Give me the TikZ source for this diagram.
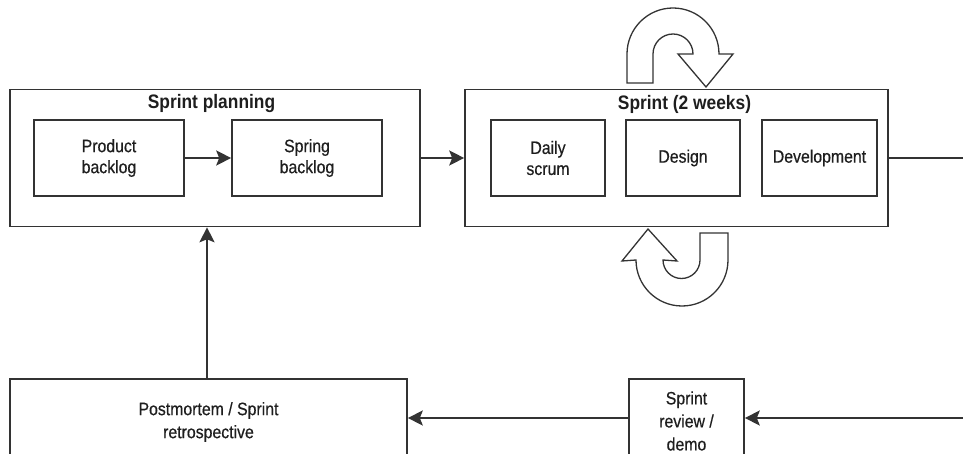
\documentclass[tikz,border=0pt]{standalone}
\usepackage{fontspec}
\setmainfont{Liberation Sans}[FakeStretch=0.89]
\newfontfamily\bodyfont{Liberation Sans}[FakeStretch=0.88, FakeBold=0.5]
\usetikzlibrary{arrows.meta}
\definecolor{ink}{HTML}{333333}
\definecolor{txt}{HTML}{1E1E1E}
\tikzset{
  x=1pt,y=1pt,
  every node/.style={text=txt},
  outer/.style={draw=ink, line width=1.6pt, minimum width=#1, minimum height=137pt, inner sep=0pt},
  inbox/.style={draw=ink, line width=1.6pt, minimum width=#1, minimum height=76pt, inner sep=0pt, align=center, font=\bodyfont\fontsize{18}{21}\selectfont},
  lowbox/.style={draw=ink, line width=1.6pt, minimum width=#1, inner sep=0pt, align=center, font=\bodyfont\fontsize{18}{23}\selectfont},
  ttl/.style={font=\fontsize{19.5}{22}\selectfont\bfseries, inner sep=0pt},
  arr/.style={draw=ink, line width=1.6pt, -{Stealth[length=15pt,width=15pt,inset=3pt]}},
  conn/.style={draw=ink, line width=1.6pt},
  uturn/.style={draw=ink, line width=1.3pt, fill=white, line join=miter}
}
\begin{document}
\begin{tikzpicture}
\clip (0,0) rectangle (963,-454);
\fill[white] (0,0) rectangle (963,-454);
% containers
\node[outer=410pt] (plan) at (215,-158) {};
\node[ttl] (plant) at (211.5,-104) {Sprint planning};
\node[inbox=150pt] (prod) at (109,-158) {Product\\backlog};
\node[inbox=150pt] (spring) at (307,-158) {Spring\\backlog};
\node[outer=423pt] (sprint) at (676.5,-158) {};
\node[ttl] (sprintt) at (684.5,-104) {Sprint (2 weeks)};
\node[inbox=114pt] (daily) at (548,-158) {Daily\\scrum};
\node[inbox=114pt] (design) at (683,-158) {Design};
\node[inbox=115pt] (dev) at (819.5,-158) {Development};
% bottom row
\node[lowbox=397pt, minimum height=86pt] (pm) at (208.5,-422) {Postmortem / Sprint\\retrospective};
\node[lowbox=115pt, minimum height=84pt] (rv) at (686.5,-421) {Sprint\\review /\\demo};
% free ends
\coordinate (rout) at (966,-158);
\coordinate (rin) at (966,-418);
% connectors
\draw[arr] (prod.east) -- (spring.west);
\draw[arr] (plan.east) -- (sprint.west);
\draw[conn] (sprint.east) -- (rout);
\draw[arr] (rin) -- (rv.east |- rin);
\draw[arr] (rv.west |- rin) -- (pm.east |- rin);
\draw[arr] ([xshift=-1.5pt]pm.north) -- ([xshift=-1.5pt]pm.north |- plan.south);
% U-turn arrows
\path[uturn] (627,-83) -- (627,-54) arc[start angle=180, end angle=0, radius=46]
  -- (733,-54) -- (706,-87) -- (678,-54) -- (693,-54)
  arc[start angle=0, end angle=180, radius=20] -- (653,-83) -- cycle;
\path[uturn] (700,-233) -- (728,-233) -- (728,-260) arc[start angle=0, end angle=-180, radius=46]
  -- (622,-261) -- (648,-229) -- (677,-261) -- (663,-260)
  arc[start angle=180, end angle=360, radius=18.5] -- cycle;
\end{tikzpicture}
\end{document}
